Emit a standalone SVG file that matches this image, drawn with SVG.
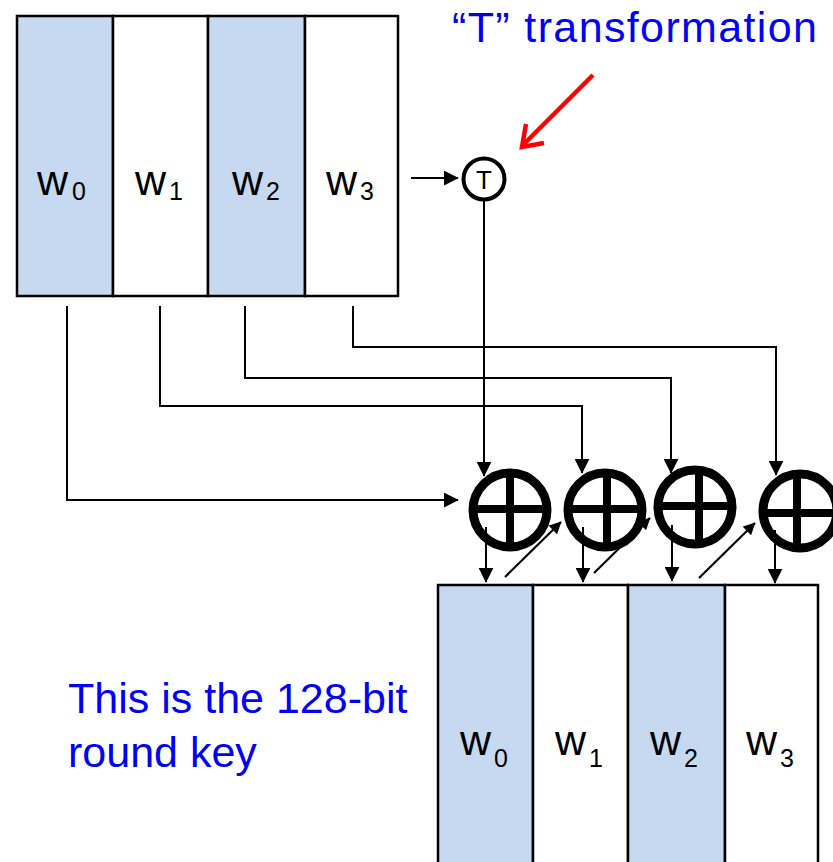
<svg xmlns="http://www.w3.org/2000/svg" width="833" height="862" viewBox="0 0 833 862">
<style>
  .cellb { fill: #C6D9F0; stroke: #000; stroke-width: 2.5; }
  .cellw { fill: #FFFFFF; stroke: #000; stroke-width: 2.5; }
  .w { font-family: "Liberation Sans", Arial, sans-serif; font-size: 43px; fill: #000; }
  .sub { font-family: "Liberation Sans", Arial, sans-serif; font-size: 25px; fill: #000; }
  .note { font-family: "Liberation Sans", Arial, sans-serif; font-size: 43px; fill: #0000F5; }
  .conn { fill: none; stroke: #000; stroke-width: 2; }
  .diag { fill: none; stroke: #000; stroke-width: 2.2; }
  .ring { fill: none; stroke: #000; stroke-width: 9; }
  .bar { stroke: #000; stroke-width: 8; }
</style>
<defs>
  <marker id="ah" viewBox="0 0 10 10" refX="9.5" refY="5" markerWidth="15" markerHeight="15" markerUnits="userSpaceOnUse" orient="auto">
    <path d="M0,0 L10,5 L0,10 z" fill="#000"/>
  </marker>
  <marker id="ahs" viewBox="0 0 10 10" refX="9.5" refY="5" markerWidth="13" markerHeight="12" markerUnits="userSpaceOnUse" orient="auto">
    <path d="M0,0 L10,5 L0,10 z" fill="#000"/>
  </marker>
</defs>
<rect width="833" height="862" fill="#FFFFFF"/>

<g id="top-key">
  <rect class="cellb" x="17" y="16" width="96" height="280"/>
  <rect class="cellw" x="113" y="16" width="95" height="280"/>
  <rect class="cellb" x="208" y="16" width="97" height="280"/>
  <rect class="cellw" x="305" y="16" width="93" height="280"/>
  <text class="w" x="37" y="195">w</text><text class="sub" x="72" y="200">0</text>
  <text class="w" x="135" y="195">w</text><text class="sub" x="169" y="200">1</text>
  <text class="w" x="232" y="195">w</text><text class="sub" x="266" y="200">2</text>
  <text class="w" x="326" y="195">w</text><text class="sub" x="360" y="200">3</text>
</g>

<g id="t-node">
  <circle cx="484" cy="179" r="20.5" fill="#FFFFFF" stroke="#000" stroke-width="4"/>
  <text x="484" y="189" text-anchor="middle" font-family="Liberation Sans, Arial, sans-serif" font-size="26" fill="#000">T</text>
</g>

<g id="t-label">
  <text class="note" x="452" y="42" textLength="365">“T” transformation</text>
  <path d="M593,75 L523,145" fill="none" stroke="#FF0000" stroke-width="4.5"/>
  <path d="M526,124 L522,147 L544,143" fill="none" stroke="#FF0000" stroke-width="4.5" stroke-linejoin="miter"/>
</g>

<g id="connectors">
  <path class="conn" d="M67,306 V500 H458" marker-end="url(#ah)"/>
  <path class="conn" d="M160,306 V406 H582 V473" marker-end="url(#ah)"/>
  <path class="conn" d="M245,306 V378 H671 V473" marker-end="url(#ah)"/>
  <path class="conn" d="M353,306 V347 H776 V475" marker-end="url(#ah)"/>
  <path class="conn" d="M484,201 V476" marker-end="url(#ah)"/>
  <path class="conn" d="M411,178 H458" marker-end="url(#ah)"/>
  <path class="conn" d="M486,527 V582" marker-end="url(#ah)"/>
  <path class="conn" d="M583,527 V582" marker-end="url(#ah)"/>
  <path class="conn" d="M672,525 V581" marker-end="url(#ah)"/>
  <path class="conn" d="M775,530 V583" marker-end="url(#ah)"/>
  <path class="diag" d="M505,577 L561,522" marker-end="url(#ahs)"/>
  <path class="diag" d="M594,573 L650,518" marker-end="url(#ahs)"/>
  <path class="diag" d="M699,578 L755,523" marker-end="url(#ahs)"/>
</g>

<g id="xor1">
  <circle class="ring" cx="510" cy="510" r="37"/>
  <line class="bar" x1="473" y1="509" x2="547" y2="509"/>
  <line class="bar" x1="510" y1="473" x2="510" y2="547"/>
</g>
<g id="xor2">
  <circle class="ring" cx="605" cy="510" r="37"/>
  <line class="bar" x1="568" y1="509" x2="642" y2="509"/>
  <line class="bar" x1="607" y1="473" x2="607" y2="547"/>
</g>
<g id="xor3">
  <circle class="ring" cx="695" cy="507" r="37"/>
  <line class="bar" x1="658" y1="506" x2="732" y2="506"/>
  <line class="bar" x1="699" y1="470" x2="699" y2="544"/>
</g>
<g id="xor4">
  <circle class="ring" cx="800" cy="511" r="37"/>
  <line class="bar" x1="763" y1="513" x2="837" y2="513"/>
  <line class="bar" x1="797" y1="474" x2="797" y2="548"/>
</g>

<g id="round-key">
  <rect class="cellb" x="438" y="585" width="95" height="300"/>
  <rect class="cellw" x="533" y="585" width="95" height="300"/>
  <rect class="cellb" x="628" y="585" width="97" height="300"/>
  <rect class="cellw" x="725" y="585" width="93" height="300"/>
  <text class="w" x="460" y="755">w</text><text class="sub" x="494" y="767">0</text>
  <text class="w" x="555" y="755">w</text><text class="sub" x="589" y="767">1</text>
  <text class="w" x="650" y="755">w</text><text class="sub" x="684" y="767">2</text>
  <text class="w" x="746" y="755">w</text><text class="sub" x="780" y="767">3</text>
</g>

<g id="round-key-label">
  <text class="note" x="68" y="713">This is the 128-bit</text>
  <text class="note" x="68" y="767">round key</text>
</g>
</svg>
